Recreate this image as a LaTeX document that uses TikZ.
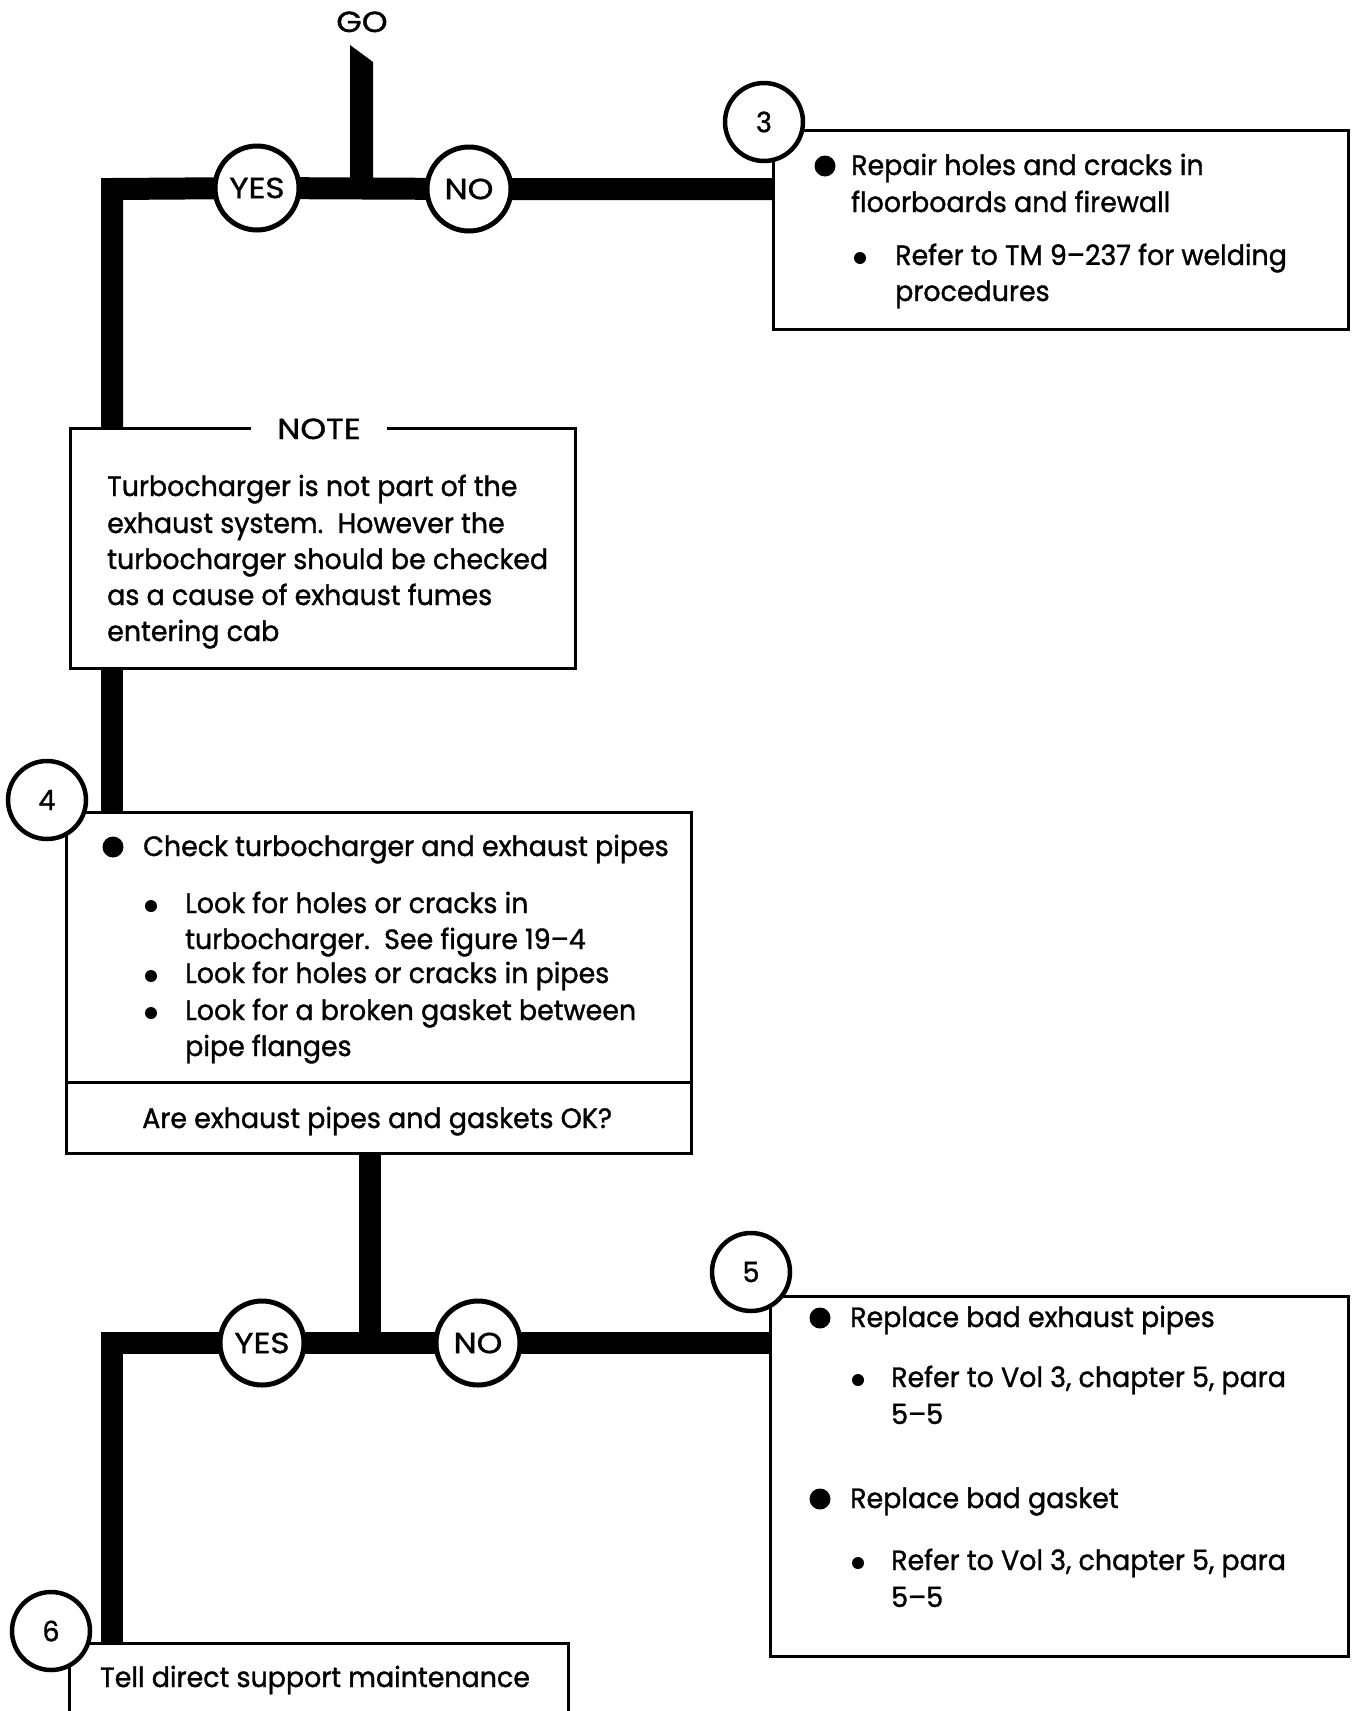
\documentclass[tikz,border=0pt]{standalone}
\usepackage{fontspec}
\setmainfont{Poppins}[FakeStretch=0.96,FakeBold=1.2]
\newfontfamily\capsfont{Poppins}[FakeStretch=1.13,FakeBold=1.2]
\usetikzlibrary{backgrounds}
\begin{document}
\begin{tikzpicture}[x=1pt,y=-1pt,
  boxline/.style={draw=black,line width=3pt},
  stepbox/.style={boxline,rectangle,fill=white,anchor=north west,inner sep=0pt},
  decision/.style={circle,draw=black,line width=5pt,fill=white,minimum size=84pt,inner sep=0pt,font=\capsfont\fontsize{29}{30}\selectfont},
  numcirc/.style={circle,draw=black,line width=4.5pt,fill=white,minimum size=78pt,inner sep=0pt,font=\fontsize{28}{30}\selectfont},
  txt/.style={anchor=base west,inner sep=0pt,font=\fontsize{28}{36}\selectfont},
  bigdot/.style={circle,fill=black,inner sep=0pt,minimum size=21pt},
  smalldot/.style={circle,fill=black,inner sep=0pt,minimum size=12pt},
  bar/.style={line width=22pt,line join=miter,line cap=butt}]
\clip (0,0) rectangle (1354,1711);

% coordinates of the bar junctions
\coordinate (tl) at (112,189);
\coordinate (j2) at (370,1343);
\coordinate (bl) at (112,1343);

% GO label
\node[anchor=base,inner sep=0pt,font=\capsfont\fontsize{29}{30}\selectfont] (go) at (362,32) {GO};

% boxes
\node[stepbox,minimum width=575pt,minimum height=199pt] (box3) at (772,129) {};
\node[stepbox,minimum width=505pt,minimum height=240pt] (note) at (69,427) {};
\node[stepbox,minimum width=625pt,minimum height=341pt] (box4) at (65,811) {};
\node[stepbox,minimum width=578pt,minimum height=360pt] (box5) at (769,1295) {};
\node[stepbox,minimum width=499pt,minimum height=150pt] (box6) at (68,1642) {};
\coordinate (dl) at (65,1082);
\coordinate (dr) at (690,1082);
\draw[boxline] (dl) -- (dr);

% NOTE title
\node[anchor=base,fill=white,inner xsep=26pt,inner ysep=4pt,font=\capsfont\fontsize{29}{30}\selectfont] (notetitle) at (319,439) {NOTE};

% decision circles
\node[decision] (yes1) at (257,188) {YES};
\node[decision] (no1) at (469,189) {NO};
\node[decision] (yes2) at (262,1343) {YES};
\node[decision] (no2) at (478,1343) {NO};

% step number circles
\node[numcirc] (n3) at (764,122) {3};
\node[numcirc] (n4) at (47,800) {4};
\node[numcirc] (n5) at (751,1272) {5};
\node[numcirc] (n6) at (51,1631) {6};

% box 3 text
\node[bigdot] (b3a) at (825,166) {};
\node[txt] (t3a) at (851,175) {Repair holes and cracks in};
\node[txt] (t3b) at (851,212) {floorboards and firewall};
\node[smalldot] (b3b) at (860,258) {};
\node[txt] (t3c) at (895,265) {Refer to TM 9--237 for welding};
\node[txt] (t3d) at (895,301) {procedures};

% note text
\node[txt] (nt1) at (107,496) {Turbocharger is not part of the};
\node[txt] (nt2) at (107,533) {exhaust system.\ \ However the};
\node[txt] (nt3) at (107,569) {turbocharger should be checked};
\node[txt] (nt4) at (107,605) {as a cause of exhaust fumes};
\node[txt] (nt5) at (107,641) {entering cab};

% box 4 text
\node[bigdot] (b4a) at (113,847) {};
\node[txt] (t4a) at (143,856) {Check turbocharger and exhaust pipes};
\node[smalldot] (b4b) at (151,906) {};
\node[txt] (t4b) at (185,913) {Look for holes or cracks in};
\node[txt] (t4c) at (185,949) {turbocharger.\ \ See figure 19--4};
\node[smalldot] (b4c) at (151,976) {};
\node[txt] (t4d) at (185,983) {Look for holes or cracks in pipes};
\node[smalldot] (b4d) at (151,1013) {};
\node[txt] (t4e) at (185,1020) {Look for a broken gasket between};
\node[txt] (t4f) at (185,1056) {pipe flanges};
\node[txt] (t4q) at (142,1128) {Are exhaust pipes and gaskets OK?};

% box 5 text
\node[bigdot] (b5a) at (820,1318) {};
\node[txt] (t5a) at (850,1327) {Replace bad exhaust pipes};
\node[smalldot] (b5b) at (858,1380) {};
\node[txt] (t5b) at (891,1387) {Refer to Vol 3, chapter 5, para};
\node[txt] (t5c) at (891,1424) {5--5};
\node[bigdot] (b5c) at (820,1499) {};
\node[txt] (t5d) at (850,1508) {Replace bad gasket};
\node[smalldot] (b5d) at (858,1563) {};
\node[txt] (t5e) at (891,1570) {Refer to Vol 3, chapter 5, para};
\node[txt] (t5f) at (891,1607) {5--5};

% box 6 text
\node[txt] (t6) at (100,1687) {Tell direct support maintenance};

% flow bars
\begin{scope}[on background layer]
  \fill[white] (0,0) rectangle (1354,1711);
  \fill (350,45) -- (373,62) -- (373,189) -- (350,189) -- cycle;
  \draw[bar] (box3.west |- tl) -- (no1.center) -- (yes1.center) -- (tl) -- (tl |- note.north);
  \draw[bar] (tl |- note.south) -- (tl |- box4.north);
  \draw[bar] (j2 |- box4.south) -- (j2);
  \draw[bar] (box5.west |- j2) -- (no2.center) -- (yes2.center) -- (bl) -- (bl |- box6.north);
\end{scope}
\end{tikzpicture}
\end{document}
